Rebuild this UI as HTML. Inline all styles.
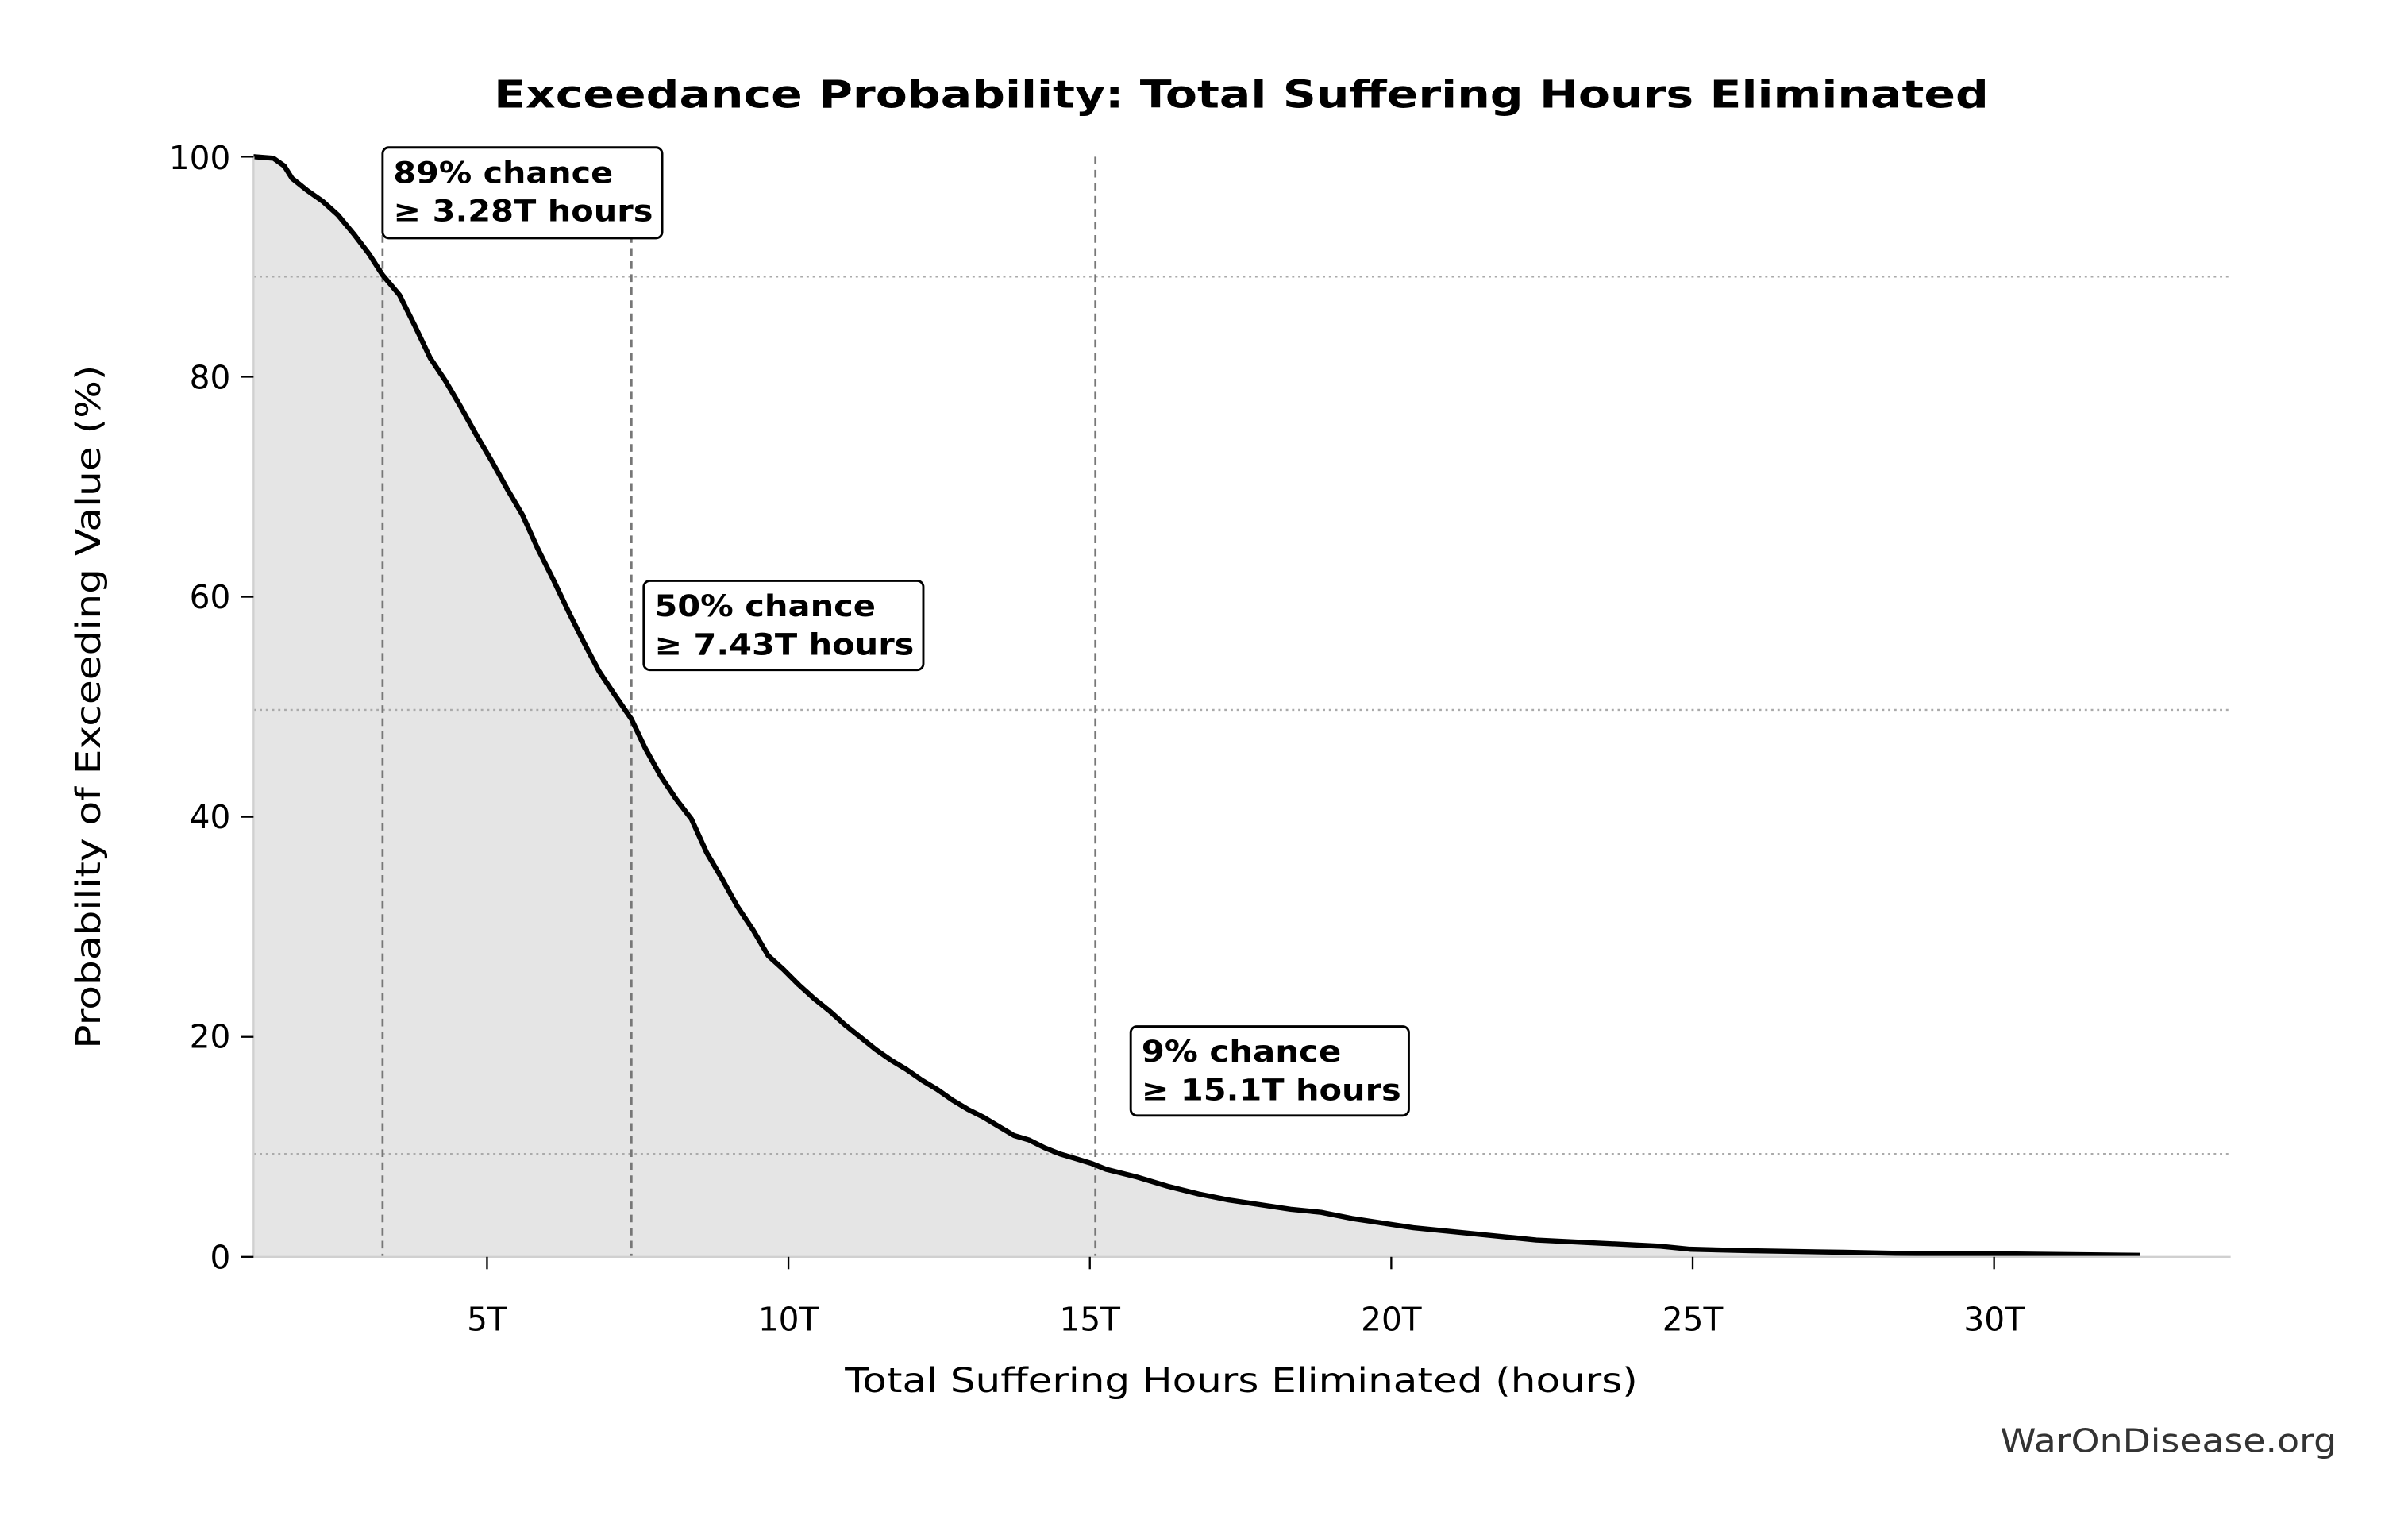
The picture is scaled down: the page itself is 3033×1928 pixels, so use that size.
<!DOCTYPE html>
<html><head><meta charset="utf-8"><style>html,body{margin:0;padding:0;background:#fff}svg{display:block}</style></head>
<body>
<svg width="3033" height="1928" viewBox="0 0 1567.4 996.4" xmlns="http://www.w3.org/2000/svg" font-family="'DejaVu Sans','Liberation Sans',sans-serif">
<rect width="1567.4" height="996.4" fill="#fff"/>
<polygon fill="#e5e5e5" points="165,818 165,102 178,103 185,108 190,116 200,124 210,131 220,140 230,152 240,165 249,179 260,192 270,212 280,233 290,248 300,265 310,283 320,300 330,318 340,335 350,357 360,377 370,398 380,418 390,437 400,452 411,468 420,487 430,505 440,520 450,533 460,555 470,572 480,590 490,605 500,622 510,631 520,641 530,650 540,658 550,667 560,675 570,683 580,690 590,696 600,703 610,709 620,716 630,722 640,727 650,733 660,739 670,742 680,747 690,751 700,754 710,757 720,761 740,766 760,772 780,777 800,781 820,784 840,787 860,789 880,793 900,796 920,799 940,801 960,803 980,805 1000,807 1040,809 1080,811 1100,813 1140,814 1200,815 1250,816 1300,816 1393,817 1393,818"/>
<g stroke="#aaa" stroke-width="1.2" stroke-dasharray="1.5,2.5">
<line x1="165" y1="180" x2="1452" y2="180"/><line x1="165" y1="462" x2="1452" y2="462"/><line x1="165" y1="751" x2="1452" y2="751"/>
</g>
<g stroke="#777" stroke-width="1.4" stroke-dasharray="5,3.5">
<line x1="249" y1="102" x2="249" y2="818"/><line x1="411" y1="102" x2="411" y2="818"/><line x1="713" y1="102" x2="713" y2="818"/>
</g>
<polyline fill="none" stroke="#000" stroke-width="3.3" stroke-linejoin="round" points="165,102 178,103 185,108 190,116 200,124 210,131 220,140 230,152 240,165 249,179 260,192 270,212 280,233 290,248 300,265 310,283 320,300 330,318 340,335 350,357 360,377 370,398 380,418 390,437 400,452 411,468 420,487 430,505 440,520 450,533 460,555 470,572 480,590 490,605 500,622 510,631 520,641 530,650 540,658 550,667 560,675 570,683 580,690 590,696 600,703 610,709 620,716 630,722 640,727 650,733 660,739 670,742 680,747 690,751 700,754 710,757 720,761 740,766 760,772 780,777 800,781 820,784 840,787 860,789 880,793 900,796 920,799 940,801 960,803 980,805 1000,807 1040,809 1080,811 1100,813 1140,814 1200,815 1250,816 1300,816 1393,817"/>
<g stroke="#d0d0d0" stroke-width="1.2"><line x1="165" y1="102" x2="165" y2="818"/><line x1="165" y1="818" x2="1452" y2="818"/></g>
<g stroke="#000" stroke-width="1.2">
<line x1="157" y1="102" x2="165" y2="102"/><line x1="157" y1="245.2" x2="165" y2="245.2"/><line x1="157" y1="388.4" x2="165" y2="388.4"/><line x1="157" y1="531.6" x2="165" y2="531.6"/><line x1="157" y1="674.8" x2="165" y2="674.8"/><line x1="157" y1="818" x2="165" y2="818"/>
<line x1="317" y1="818" x2="317" y2="826"/><line x1="513.2" y1="818" x2="513.2" y2="826"/><line x1="709.4" y1="818" x2="709.4" y2="826"/><line x1="905.6" y1="818" x2="905.6" y2="826"/><line x1="1101.8" y1="818" x2="1101.8" y2="826"/><line x1="1298" y1="818" x2="1298" y2="826"/>
</g>
<g font-size="21" fill="#000" text-anchor="end">
<text x="150" y="110">100</text><text x="150" y="253">80</text><text x="150" y="396">60</text><text x="150" y="539">40</text><text x="150" y="682">20</text><text x="150" y="825.5">0</text>
</g>
<g font-size="21" fill="#000" text-anchor="middle">
<text x="317" y="866">5T</text><text x="513.2" y="866">10T</text><text x="709.4" y="866">15T</text><text x="905.6" y="866">20T</text><text x="1101.8" y="866">25T</text><text x="1298" y="866">30T</text>
</g>
<text x="808" y="70" font-size="25" font-weight="bold" text-anchor="middle" textLength="973" lengthAdjust="spacingAndGlyphs">Exceedance Probability: Total Suffering Hours Eliminated</text>
<text x="808" y="906" font-size="22" text-anchor="middle" textLength="516" lengthAdjust="spacingAndGlyphs">Total Suffering Hours Eliminated (hours)</text>
<text transform="translate(65,460) rotate(-90)" font-size="22" text-anchor="middle" textLength="445" lengthAdjust="spacingAndGlyphs">Probability of Exceeding Value (%)</text>
<text x="1521" y="945" font-size="21" fill="#333" text-anchor="end" textLength="219" lengthAdjust="spacingAndGlyphs">WarOnDisease.org</text>
<g fill="#fff" stroke="#000" stroke-width="1.5">
<rect x="249" y="96" width="182" height="59" rx="4"/>
<rect x="419" y="378" width="182" height="58" rx="4"/>
<rect x="736" y="668" width="181" height="58" rx="4"/>
</g>
<g font-size="19.5" font-weight="bold" fill="#000">
<text x="256" y="119" textLength="143" lengthAdjust="spacingAndGlyphs">89% chance</text>
<text x="256" y="144" textLength="169" lengthAdjust="spacingAndGlyphs">≥ 3.28T hours</text>
<text x="426" y="401" textLength="144" lengthAdjust="spacingAndGlyphs">50% chance</text>
<text x="426" y="426" textLength="169" lengthAdjust="spacingAndGlyphs">≥ 7.43T hours</text>
<text x="743" y="691" textLength="130" lengthAdjust="spacingAndGlyphs">9% chance</text>
<text x="743" y="716" textLength="169" lengthAdjust="spacingAndGlyphs">≥ 15.1T hours</text>
</g>
</svg>
</body></html>
